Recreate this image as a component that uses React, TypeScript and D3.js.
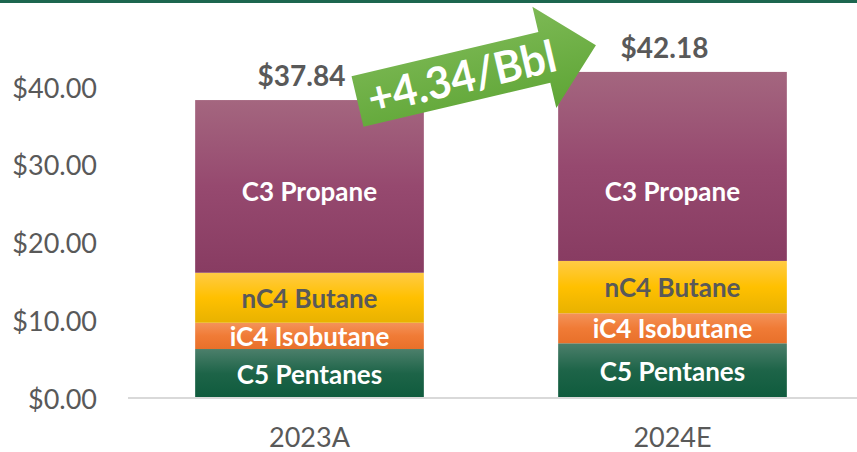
import React from "react";
import * as d3 from "d3";

const categories = ["2023A", "2024E"];
const seriesNames = ["C5 Pentanes", "iC4 Isobutane", "nC4 Butane", "C3 Propane"];
const c5Pentanes = [6.3, 7.04];
const ic4Isobutane = [3.38, 3.86];
const nc4Butane = [6.43, 6.73];
const c3Propane = [22.21, 24.31];
const totalLabels = ["$37.84", "$42.18"];
const changeLabel = "+4.34/Bbl";
const yTicks = [0, 10, 20, 30, 40];

const W = 857;
const H = 452;
const FONT = "Lato, 'Open Sans', sans-serif";
const GRAY = "#595959";

const seriesStyle = [
  { top: "#4c7f6b", mid: "#1d6448", bottom: "#0f5b3d", text: "#ffffff" },
  { top: "#f4935a", mid: "#f07b36", bottom: "#e8702a", text: "#ffffff" },
  { top: "#ffcb45", mid: "#ffc000", bottom: "#e8b200", text: GRAY },
  { top: "#a4667f", mid: "#96496f", bottom: "#883c62", text: "#ffffff" },
];

export default function App() {
  const seriesValues = [c5Pentanes, ic4Isobutane, nc4Butane, c3Propane];
  const table = categories.map((cat, i) => {
    const row: any = { cat };
    seriesNames.forEach((s, k) => (row[s] = seriesValues[k][i]));
    return row;
  });
  const stacked = d3.stack().keys(seriesNames)(table);

  const x = d3
    .scaleBand()
    .domain(categories)
    .range([128, 854])
    .paddingInner(0.37)
    .paddingOuter(0.185);
  const y = d3.scaleLinear().domain([0, 40]).range([398, 87]);
  const bw = x.bandwidth();

  const arrowPath = "M0,-26 L192,-26 L192,-52 L245,0 L192,52 L192,26 L0,26 Z";

  return (
    <svg
      width={W}
      height={H}
      style={{ position: "absolute", left: 0, top: 0, background: "#fff" }}
      fontFamily={FONT}
    >
      <defs>
        {seriesStyle.map((s, k) => (
          <linearGradient key={k} id={`g${k}`} x1="0" y1="0" x2="0" y2="1">
            <stop offset="0%" stopColor={s.top} />
            <stop offset="50%" stopColor={s.mid} />
            <stop offset="100%" stopColor={s.bottom} />
          </linearGradient>
        ))}
        <linearGradient id="arrowG" x1="0" y1="0" x2="0" y2="1">
          <stop offset="0%" stopColor="#7db955" />
          <stop offset="100%" stopColor="#5ea535" />
        </linearGradient>
      </defs>

      <rect x={0} y={0} width={W} height={3} fill="#1d664f" />

      {yTicks.map((t) => (
        <text
          key={t}
          x={97}
          y={y(t)}
          textAnchor="end"
          dominantBaseline="central"
          fontSize={27}
          fill={GRAY}
        >
          {d3.format("$.2f")(t)}
        </text>
      ))}

      {stacked.map((layer, k) =>
        layer.map((d, i) => (
          <rect
            key={`${k}-${i}`}
            x={x(categories[i])}
            y={y(d[1])}
            width={bw}
            height={y(d[0]) - y(d[1])}
            fill={`url(#g${k})`}
          />
        ))
      )}

      <line x1={128} x2={W} y1={y(0)} y2={y(0)} stroke="#d9d9d9" strokeWidth={2} />

      {stacked.map((layer, k) =>
        layer.map((d, i) => {
          const cx = (x(categories[i]) as number) + bw / 2;
          const cy = k === 3 ? y(25.3) : (y(d[0]) + y(d[1])) / 2 + 10;
          return (
            <text
              key={`l${k}-${i}`}
              x={cx}
              y={cy}
              textAnchor="middle"
              fontSize={26}
              fontWeight={700}
              fill={seriesStyle[k].text}
            >
              {seriesNames[k]}
            </text>
          );
        })
      )}

      {stacked[stacked.length - 1].map((d, i) => (
        <text
          key={`t${i}`}
          x={(x(categories[i]) as number) + bw / 2 - 8}
          y={y(d[1]) - 14}
          textAnchor="middle"
          fontSize={28}
          fontWeight={700}
          fill={GRAY}
        >
          {totalLabels[i]}
        </text>
      ))}

      {categories.map((c) => (
        <text
          key={c}
          x={(x(c) as number) + bw / 2}
          y={447}
          textAnchor="middle"
          fontSize={27}
          fill={GRAY}
        >
          {c}
        </text>
      ))}

      <g transform="translate(357.5,101.5) rotate(-13.3)">
        <path d={arrowPath} fill="url(#arrowG)" />
        <text
          x={107}
          y={16}
          textAnchor="middle"
          fontSize={44}
          fontWeight={700}
          fill="#ffffff"
          textLength={192}
          lengthAdjust="spacingAndGlyphs"
        >
          {changeLabel}
        </text>
      </g>
    </svg>
  );
}
